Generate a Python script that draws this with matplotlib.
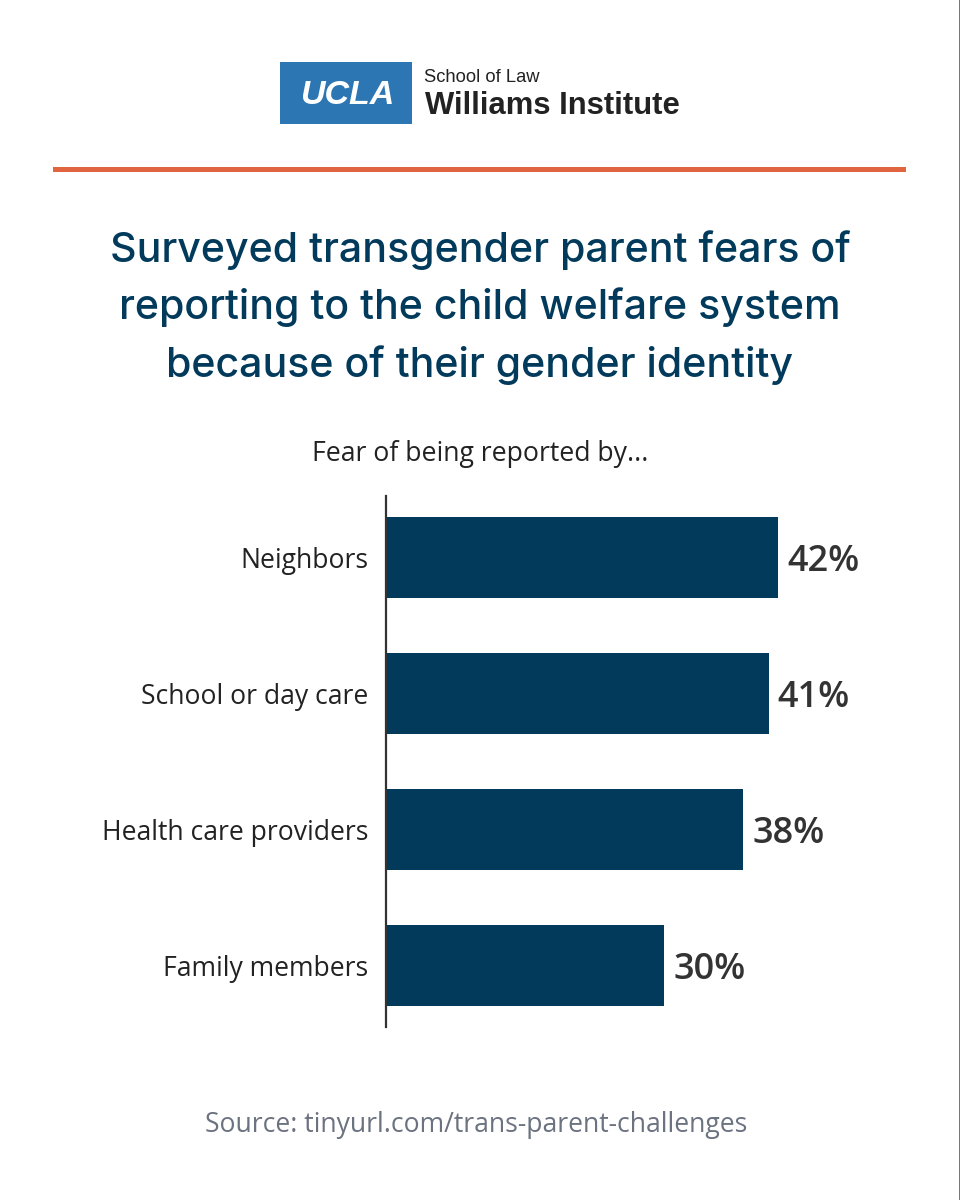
import matplotlib
matplotlib.use('Agg')
from matplotlib import pyplot as plt
from matplotlib.patches import Rectangle

categories = ['Neighbors', 'School or day care', 'Health care providers', 'Family members']
values = [42, 41, 38.3, 29.8]
value_labels = ['42%', '41%', '38%', '30%']
title_lines = ['Surveyed transgender parent fears of',
               'reporting to the child welfare system',
               'because of their gender identity']
subtitle = 'Fear of being reported by...'
source = 'Source: tinyurl.com/trans-parent-challenges'

W, H = 960, 1200
NAVY = '#023a5c'
DARK = '#333333'

fig = plt.figure(figsize=(W / 100, H / 100), dpi=100, facecolor='white')

# overlay in pixel coords for the non chart bits
bg = fig.add_axes([0, 0, 1, 1])
bg.set_xlim(0, W)
bg.set_ylim(H, 0)
bg.axis('off')

# logo
bg.add_patch(Rectangle((280, 62), 132, 62, color='#2b76b3', lw=0))
bg.text(347.5, 95, 'UCLA', color='white', fontsize=24.5, fontweight='bold', style='italic',
        family='Liberation Sans', ha='center', va='center')
bg.text(424.5, 78, 'School of Law', color='#222222', fontsize=13.2, family='Liberation Sans',
        ha='left', va='center')
bg.text(425, 106.5, 'Williams Institute', color='#222222', fontsize=22.3, fontweight='bold',
        family='Liberation Sans', ha='left', va='center')

# orange rule and the grey edge on the right
bg.add_patch(Rectangle((53, 167), 853, 4.5, color='#e06540', lw=0))
bg.add_patch(Rectangle((959, 0), 1, H, color='#777777', lw=0))

for i, line in enumerate(title_lines):
    bg.text(480, 250 + i * 57.5, line, color=NAVY, fontsize=29.6, fontweight='medium',
            family='Inter', ha='center', va='center')

bg.text(480, 454, subtitle, color='#222222', fontsize=19.2, family='Open Sans',
        ha='center', va='center')
bg.text(476, 1125, source, color='#6b7280', fontsize=19.1, family='Open Sans',
        ha='center', va='center')

# chart: 9.33 px per percent, 136 px between the bars
ax = fig.add_axes([386 / W, 1 - 1027 / H, 520 / W, 531 / H])
ax.patch.set_alpha(0)
ax.set_xlim(0, 520 / 9.33)
ax.set_ylim(3 + 61.5 / 136, -61.5 / 136)
ax.barh(range(len(values)), values, height=81.5 / 136, color=NAVY)
for i, v in enumerate(values):
    ax.annotate(value_labels[i], (v, i), xytext=(6.5, -3), textcoords='offset points',
                color=DARK, fontsize=26, fontweight='semibold', family='Open Sans',
                ha='left', va='center')
ax.set_yticks(range(len(categories)))
ax.set_yticklabels(categories, fontsize=19.1, family='Open Sans', color='#222222')
ax.tick_params(axis='y', length=0, pad=12.5)
ax.set_xticks([])
for s in ['top', 'right', 'bottom']:
    ax.spines[s].set_visible(False)
ax.spines['left'].set_color('#333333')
ax.spines['left'].set_linewidth(1.6)

fig.savefig('out.png', dpi=100)
